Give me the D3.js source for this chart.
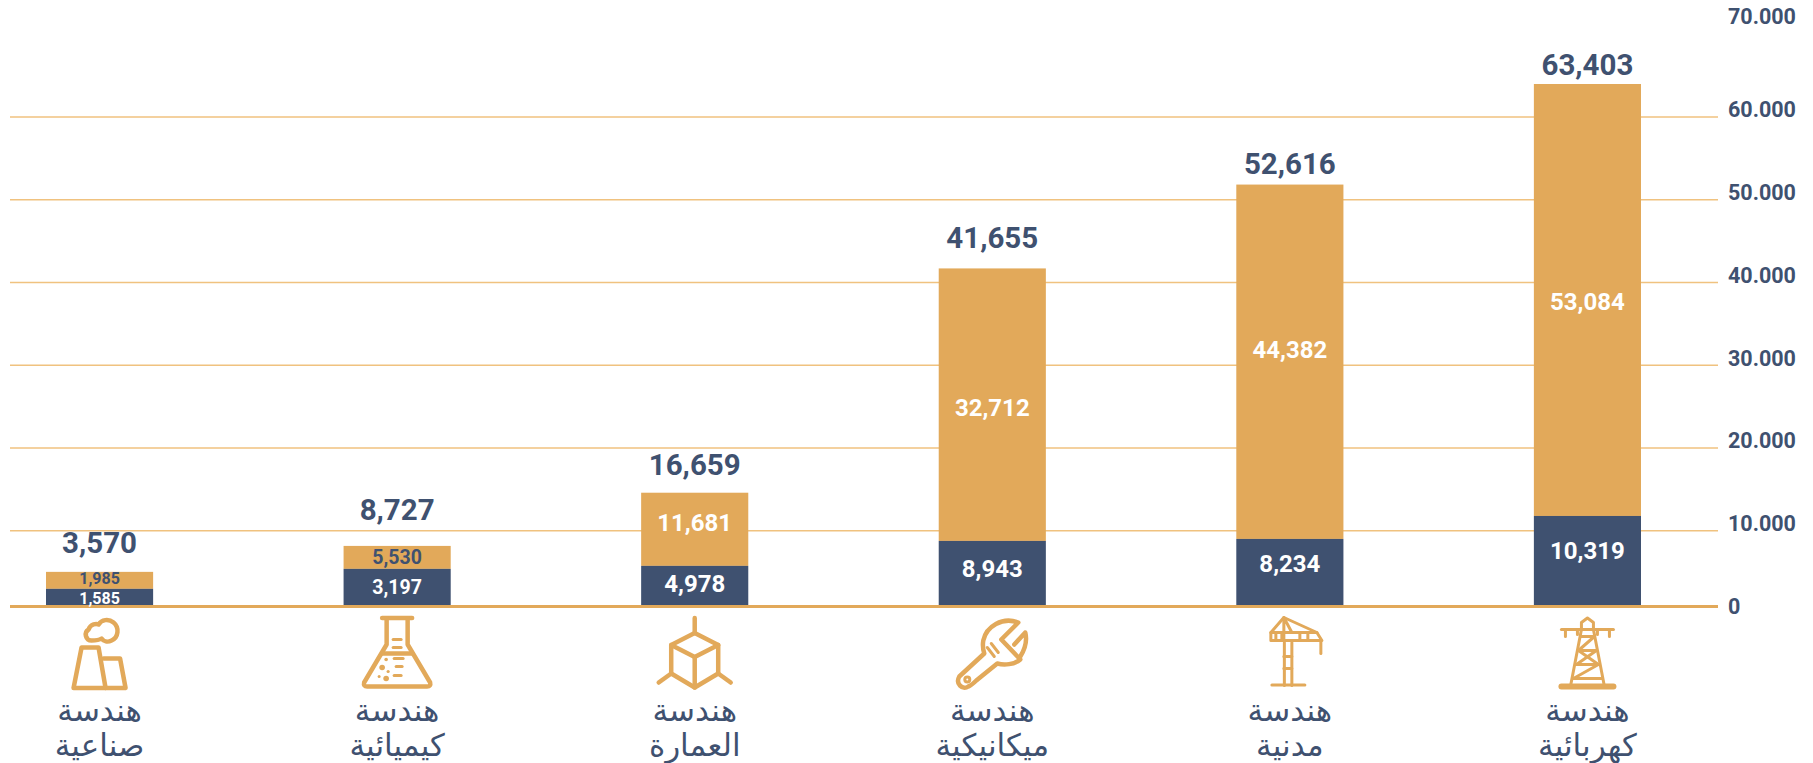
<!DOCTYPE html>
<html>

<head>
    <meta charset="utf-8">
    <title>Engineering specialties</title>
    <script src="https://cdn.jsdelivr.net/npm/d3@7"></script>
    <style>
        body { margin: 0; background: #fff; }
        text { font-family: Roboto, sans-serif; }
    </style>
</head>

<body>
    <div id="chart"></div>
    <script>
        var categories = ["صناعية", "كيميائية", "العمارة", "ميكانيكية", "مدنية", "كهربائية"];
        var categoryPrefix = "هندسة";
        var iconNames = ["factory", "flask", "cube", "wrench", "crane", "pylon"];

        // printed numbers
        var darkLabels = [1585, 3197, 4978, 8943, 8234, 10319];
        var goldLabels = [1985, 5530, 11681, 32712, 44382, 53084];
        var totalLabels = [3570, 8727, 16659, 41655, 52616, 63403];

        // the source bars are not drawn to their printed numbers, so bar heights
        // are read against the axis separately
        var darkHeights = [2135, 4548, 4910, 7925, 8166, 10941];
        var totalHeights = [4186, 7322, 13751, 40856, 50989, 62796];

        var tickValues = [0, 10000, 20000, 30000, 40000, 50000, 60000, 70000];
        var tickLabels = ["0", "10.000", "20.000", "30.000", "40.000", "50.000", "60.000", "70.000"];
        var gridValues = [10000, 20000, 30000, 40000, 50000, 60000];

        var gold = "#e2a95a", navy = "#3f5170", gridColor = "#f0c27f";
        var width = 1813, height = 763;
        var gridLeft = 10, gridRight = 1718, gridShift = 7; // grid sits a bit under its tick label

        var svg = d3.select("#chart").append("svg")
            .attr("width", width)
            .attr("height", height)
            .style("display", "block");

        var x = d3.scaleBand()
            .domain(categories)
            .range([46, 1641])
            .paddingInner(0.64);

        // the 70.000 label sits higher than the regular spacing
        var y = d3.scaleLinear()
            .domain([0, 60000, 70000])
            .range([606.5, 110, 17]);

        // grid lines
        svg.append("g").selectAll("line")
            .data(gridValues)
            .enter()
            .append("line")
            .attr("x1", gridLeft)
            .attr("x2", gridRight)
            .attr("y1", function (d) { return y(d) + gridShift; })
            .attr("y2", function (d) { return y(d) + gridShift; })
            .attr("stroke", gridColor)
            .attr("stroke-width", 1.4);

        // axis labels on the right
        var axis = svg.append("g")
            .attr("transform", "translate(1728,0)")
            .call(d3.axisRight(y)
                .tickValues(tickValues)
                .tickSize(0)
                .tickPadding(0)
                .tickFormat(function (d, i) { return tickLabels[i]; }));
        axis.select(".domain").remove();
        axis.selectAll("text")
            .attr("fill", navy)
            .style("font-family", "Roboto, sans-serif")
            .style("font-size", "21.5px")
            .style("font-weight", 700);

        // bars
        svg.append("g").selectAll("rect")
            .data(categories)
            .enter()
            .append("rect")
            .attr("x", function (d) { return x(d); })
            .attr("width", x.bandwidth())
            .attr("y", function (d, i) { return y(totalHeights[i]); })
            .attr("height", function (d, i) { return y(darkHeights[i]) - y(totalHeights[i]); })
            .attr("fill", gold);

        svg.append("g").selectAll("rect")
            .data(categories)
            .enter()
            .append("rect")
            .attr("x", function (d) { return x(d); })
            .attr("width", x.bandwidth())
            .attr("y", function (d, i) { return y(darkHeights[i]); })
            .attr("height", function (d, i) { return y(0) - y(darkHeights[i]); })
            .attr("fill", navy);

        // baseline
        svg.append("line")
            .attr("x1", gridLeft)
            .attr("x2", gridRight)
            .attr("y1", y(0))
            .attr("y2", y(0))
            .attr("stroke", gold)
            .attr("stroke-width", 3);

        var cx = function (i) { return x(categories[i]) + x.bandwidth() / 2; };
        var fmt = d3.format(",");
        var goldSizes = [16, 19.5, 24, 24, 24, 24];
        var darkSizes = [16, 19.5, 24, 24, 24, 24];
        var goldColors = [navy, navy, "#fff", "#fff", "#fff", "#fff"];
        // labels in the source are not centred exactly, pixels up from the segment middle
        var goldLift = [2, 0, 6, -3, 12, -2];
        var darkLift = [-1, 0, 2, 5, 9, 10];
        var totalLift = [29, 36, 28, 30, 21, 19];

        // inner labels
        categories.forEach(function (c, i) {
            svg.append("text")
                .attr("x", cx(i))
                .attr("y", (y(totalHeights[i]) + y(darkHeights[i])) / 2 - goldLift[i])
                .attr("text-anchor", "middle")
                .attr("dominant-baseline", "central")
                .attr("fill", goldColors[i])
                .style("font-size", goldSizes[i] + "px")
                .style("font-weight", 700)
                .text(fmt(goldLabels[i]));

            svg.append("text")
                .attr("x", cx(i))
                .attr("y", (y(darkHeights[i]) + y(0)) / 2 - darkLift[i])
                .attr("text-anchor", "middle")
                .attr("dominant-baseline", "central")
                .attr("fill", "#fff")
                .style("font-size", darkSizes[i] + "px")
                .style("font-weight", 700)
                .text(fmt(darkLabels[i]));

            svg.append("text")
                .attr("x", cx(i))
                .attr("y", y(totalHeights[i]) - totalLift[i])
                .attr("text-anchor", "middle")
                .attr("dominant-baseline", "central")
                .attr("fill", navy)
                .style("font-size", "29.5px")
                .style("font-weight", 700)
                .text(fmt(totalLabels[i]));

            // two line category label
            svg.append("text")
                .attr("x", cx(i))
                .attr("y", 710)
                .attr("text-anchor", "middle")
                .attr("dominant-baseline", "central")
                .attr("fill", navy)
                .style("font-family", "'DejaVu Sans', sans-serif")
                .style("font-size", "31px")
                .text(categoryPrefix);

            svg.append("text")
                .attr("x", cx(i))
                .attr("y", 745)
                .attr("text-anchor", "middle")
                .attr("dominant-baseline", "central")
                .attr("fill", navy)
                .style("font-family", "'DejaVu Sans', sans-serif")
                .style("font-size", "31px")
                .text(c);
        });

        // icons, coordinates are relative to the bar centre and the baseline
        var icons = {
            factory: {
                stroke: [
                    "M-26,81.5 L-18,41 L-1,41 L6,81.5 Z",
                    "M4,52 L20.5,52 L26,81.5 L6,81.5",
                    "M-8,34 C-14,34 -16,26 -11,23 C-9,17 -3,17 -1,18 C2,13 9,12 14,16 C20,21 19,31 12,34 C8,36 4,35 2,32 C-1,34 -4,34 -8,34 Z"
                ]
            },
            flask: {
                stroke: [
                    "M-15,11.5 L15,11.5",
                    "M-10.5,12 L-10.5,38 L-33,76 Q-34,80 -30,80 L30,80 Q34,80 33,76 L10.5,38 L10.5,12",
                    "M-15,47 L15,47"
                ],
                thin: ["M-4,33 L4,33", "M-4,41 L4,41", "M-3,52 L6,52", "M-1,60 L5,60", "M-3,69 L4,69"],
                dots: [[-11,53,1.8], [-15,61,2.8], [-9,65,1.6], [-18,70,1.5], [-11,72,2.8]]
            },
            cube: {
                stroke: [
                    "M0,26.5 L23.5,38.5 L23.5,67 L0,81 L-23.5,67 L-23.5,38.5 Z",
                    "M-23.5,38.5 L0,50.5 L23.5,38.5",
                    "M0,50.5 L0,81",
                    "M0,11.5 L0,26.5",
                    "M23.5,67 L36,76",
                    "M-23.5,67 L-36,76"
                ]
            },
            wrench: {
                stroke: [
                    "M26,16 C10,10 -6,20 -9,34 C-10,40 -9,44 -8,47 L-33,70 C-37,77 -30,84 -24,80 C-21,79 -18,76 -16,74 L5,57 C12,59 22,58 28,53 L9,33 L26,16 Z",
                    "M28,50 C33,42 35,34 33,26 L22,38"
                ],
                thin: ["M-1,37 L6,46", "M-5,41 L2,50"],
                dots: [[-25,73,2.5]]
            },
            crane: {
                stroke: [
                    "M-5.5,36 L-5.5,79 M2,36 L2,79",
                    "M-18,78.5 L15,78.5",
                    "M-19,34 L-19,26 L-6,11 L27,26 L32,34 L-19,34",
                    "M-19,26 L27,26",
                    "M-6,11 L-6,34 M-6,11 L2,26",
                    "M-14,27 L-14,34 M-8,27 L-8,34 M10,27 L10,34 M18,27 L18,34",
                    "M31,34 L31,47",
                    "M-6,50 L2,50 M-6,62 L2,62"
                ]
            },
            pylon: {
                stroke: [
                    "M-6,23 L-6,16 L0,11.5 L6,16 L6,23",
                    "M-26,23 L26,23",
                    "M-22,23 L-22,30 M22,23 L22,30 M-10,23 L-10,28 M10,23 L10,28",
                    "M-6,23 L-17,80 M6,23 L17,80",
                    "M-7,30 L7,30 L-9,44 L9,44 L-11,58 L11,58 L-14,72 L14,72",
                    "M-9,44 L11,58"
                ],
                base: "M-26,80 L26,80"
            }
        };

        categories.forEach(function (c, i) {
            var icon = icons[iconNames[i]];
            var g = svg.append("g")
                .attr("transform", "translate(" + cx(i) + "," + y(0) + ")")
                .attr("fill", "none")
                .attr("stroke", gold)
                .attr("stroke-linecap", "round")
                .attr("stroke-linejoin", "round");
            var w = iconNames[i] === "crane" || iconNames[i] === "pylon" ? 3 : 4.5;
            g.selectAll("path.main")
                .data(icon.stroke)
                .enter()
                .append("path")
                .attr("class", "main")
                .attr("d", function (d) { return d; })
                .attr("stroke-width", w);
            g.selectAll("path.thin")
                .data(icon.thin || [])
                .enter()
                .append("path")
                .attr("class", "thin")
                .attr("d", function (d) { return d; })
                .attr("stroke-width", 3);
            if (icon.base) {
                g.append("path").attr("d", icon.base).attr("stroke-width", 6);
            }
            g.selectAll("circle")
                .data(icon.dots || [])
                .enter()
                .append("circle")
                .attr("cx", function (d) { return d[0]; })
                .attr("cy", function (d) { return d[1]; })
                .attr("r", function (d) { return d[2]; })
                .attr("fill", iconNames[i] === "wrench" ? "none" : gold)
                .attr("stroke-width", iconNames[i] === "wrench" ? 3 : 0);
        });
    </script>
</body>

</html>
